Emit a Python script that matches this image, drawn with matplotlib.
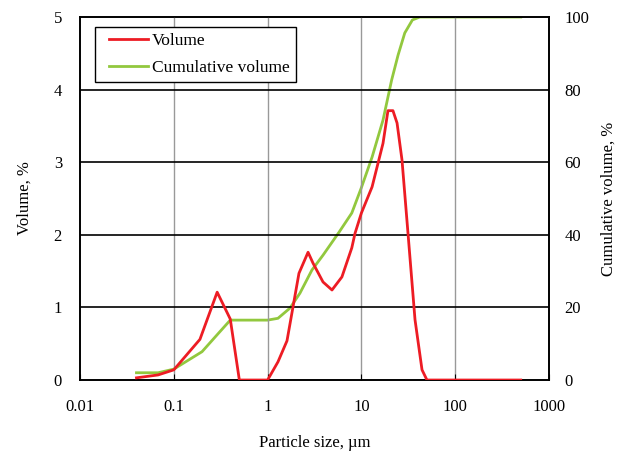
import matplotlib.pyplot as plt
from matplotlib.legend_handler import HandlerLine2D

plt.rcParams['font.family'] = ['Liberation Serif', 'DejaVu Serif']
plt.rcParams['font.size'] = 12

# particle size (um) and volume fraction (%)
size_vol = [0.04, 0.068, 0.1, 0.19, 0.29, 0.40, 0.50, 1.0, 1.29, 1.61, 2.16, 2.70, 3.05,
            3.9, 4.86, 6.2, 7.9, 8.55, 10.0, 13.0, 17.0, 19.2, 21.7, 24.0, 27.1, 31.4,
            37.3, 44.3, 50.0, 500.0]
volume = [0.03, 0.07, 0.14, 0.56, 1.21, 0.84, 0.0, 0.0, 0.25, 0.54, 1.47, 1.76, 1.61,
          1.35, 1.24, 1.42, 1.82, 2.02, 2.30, 2.66, 3.26, 3.71, 3.71, 3.54, 3.03, 2.02,
          0.83, 0.14, 0.0, 0.0]

# cumulative volume (%)
size_cum = [0.04, 0.068, 0.1, 0.2, 0.3, 0.4, 1.0, 1.29, 1.73, 2.21, 2.97, 3.9, 5.77,
            7.9, 10.0, 13.0, 17.0, 21.0, 24.6, 29.0, 35.0, 42.0, 500.0]
cumulative = [2.0, 2.0, 3.0, 7.8, 12.9, 16.5, 16.5, 17.0, 19.8, 23.9, 30.3, 34.4, 40.7,
              46.0, 53.0, 61.4, 71.6, 82.6, 89.5, 95.6, 99.2, 100.0, 100.0]

x_ticks = [0.01, 0.1, 1, 10, 100, 1000]
x_labels = ['0.01', '0.1', '1', '10', '100', '1000']

red = '#ED1C24'
green = '#92C83E'

fig = plt.figure(figsize=(6.23, 4.55), dpi=100)
ax1 = fig.add_axes([0.1284, 0.1648, 0.7528, 0.7978])
ax2 = ax1.twinx()

ax1.set_xscale('log')
ax1.set_xlim(0.01, 1000)
ax1.set_ylim(0, 5)
ax2.set_ylim(0, 100)

# grid
for xv in x_ticks[1:-1]:
    ax1.axvline(xv, color='#999999', lw=1.0, zorder=0)
for yv in range(1, 5):
    ax1.axhline(yv, color='black', lw=1.2, zorder=0)

l1, = ax1.plot(size_vol, volume, color=red, lw=2.0, label='Volume', zorder=3)
l2, = ax2.plot(size_cum, cumulative, color=green, lw=2.0, label='Cumulative volume', zorder=2)

ax1.set_xticks(x_ticks)
ax1.set_xticklabels(x_labels)
ax1.minorticks_off()
ax1.set_yticks(range(0, 6))
ax2.set_yticks(range(0, 101, 20))

ax1.tick_params(axis='x', direction='in', length=4, pad=14, labelsize=12)
ax1.tick_params(axis='y', length=0, pad=13, labelsize=12)
ax2.tick_params(axis='y', length=0, pad=11, labelsize=12)

for ax in (ax1, ax2):
    for sp in ax.spines.values():
        sp.set_color('black')
        sp.set_linewidth(1.2)

ax1.set_xlabel('Particle size, µm', fontsize=12, labelpad=14)
ax1.set_ylabel('Volume, %', fontsize=12, labelpad=15)
ax2.set_ylabel('Cumulative volume, %', fontsize=12, labelpad=8)

hmap = {l1: HandlerLine2D(xpad=0.46), l2: HandlerLine2D(xpad=0.46)}
leg = ax1.legend(handles=[l1, l2], loc='upper left', bbox_to_anchor=(0.032, 0.972),
                 borderaxespad=0, fancybox=False, edgecolor='black', framealpha=1,
                 fontsize=12.5, handlelength=2.7, handletextpad=0.23, borderpad=0.35,
                 labelspacing=0.62, handler_map=hmap)
leg.get_frame().set_linewidth(1.0)
leg.set_zorder(10)
ax1.set_zorder(ax2.get_zorder() + 1)
ax1.patch.set_visible(False)

fig.savefig('out.png', dpi=100)
